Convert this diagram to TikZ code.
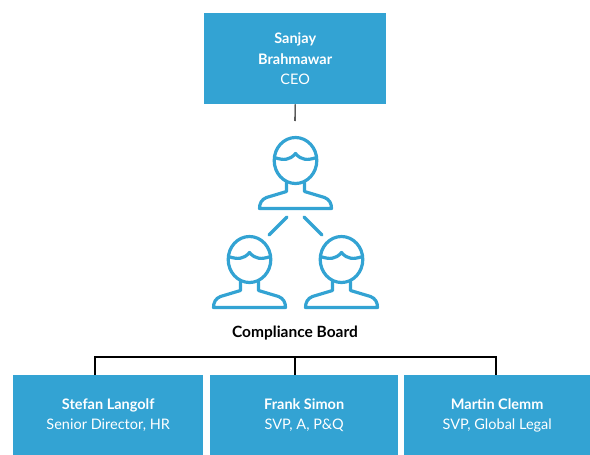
\documentclass[tikz,border=0pt]{standalone}
\usepackage{fontspec}
\setmainfont{Lato}
\definecolor{bx}{HTML}{33A3D3}
\tikzset{x=1pt,y=-1pt,
  box/.style={fill=bx,text=white,draw=none,inner sep=0pt,align=center,font=\fontsize{14.5}{20.5}\selectfont},
  wire/.style={draw=black,line width=1.1pt},
  ic/.style={draw=bx,line width=3.2pt,line cap=round,line join=round},
  person/.pic={
    \draw[ic] (0,0) ellipse (21.3 and 23);
    \draw[ic] (-21,-3) .. controls (-12,0) and (-6,0) .. (0,-7) .. controls (6,0) and (12,0) .. (21,-3);
    \draw[ic] (-9,22) -- (-9,31) -- (-29,37) .. controls (-34,39) and (-36,43) .. (-36,48) -- (36,48) .. controls (36,43) and (34,39) .. (29,37) -- (9,31) -- (9,22);
  }}
\newcommand{\bxnode}[6]{\node[box,minimum width=#3pt,minimum height=#4pt,anchor=north west] (#1) at (#2) {};\node[box,anchor=center] (#1t) at (#1.center) {#5#6};}
\begin{document}
\begin{tikzpicture}
\useasboundingbox (0,0) rectangle (590,455);
\node[box,minimum width=182pt,minimum height=91pt,anchor=north west] (ceo) at (204,13) {\textbf{Sanjay}\\\textbf{Brahmawar}\\CEO};
\node[box,minimum width=190pt,minimum height=80pt,anchor=north west] (s) at (13,375) {\textbf{Stefan Langolf}\\Senior Director, HR};
\node[box,minimum width=188pt,minimum height=80pt,anchor=north west] (f) at (210,375) {\textbf{Frank Simon}\\SVP, A, P\&Q};
\node[box,minimum width=186pt,minimum height=80pt,anchor=north west] (m) at (404,375) {\textbf{Martin Clemm}\\SVP, Global Legal};
\coordinate (ceoend) at (295,121);
\draw[wire] (ceo.south) ++(0,0) -- (ceoend);
\node[inner sep=0pt,font=\fontsize{15.5}{18}\selectfont\bfseries] (cb) at (295,333) {Compliance Board};
\coordinate (bus) at (295,357);
\draw[wire] (s.north -| 95,0) |- (bus) -| (m.north -| 496,0);
\draw[wire] (f.north -| 295,0) -- (bus);
\path (295.5,160.5) pic {person};
\path (249.5,259.5) pic {person};
\path (341.5,259.5) pic {person};
\draw[ic] (287,217) -- (269,235);
\draw[ic] (304,217) -- (322,235);
\end{tikzpicture}
\end{document}
